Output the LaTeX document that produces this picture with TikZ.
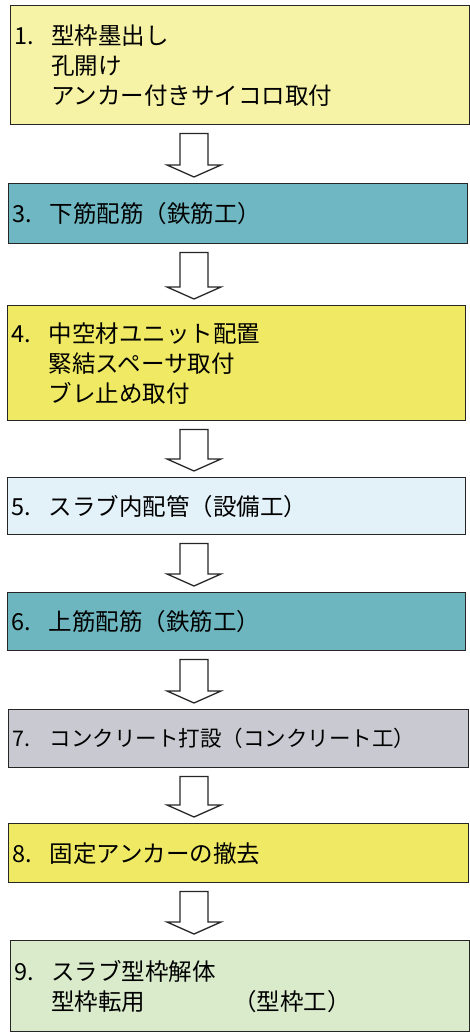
\documentclass[tikz,border=0pt]{standalone}
\usepackage{fontspec}
\setmainfont{Noto Sans CJK JP}
\usetikzlibrary{calc}
\definecolor{cA}{HTML}{F7F3A6}
\definecolor{cB}{HTML}{6FB7C2}
\definecolor{cC}{HTML}{EFE964}
\definecolor{cD}{HTML}{E3F1F9}
\definecolor{cE}{HTML}{6DB6BF}
\definecolor{cF}{HTML}{C9C9D1}
\definecolor{cG}{HTML}{F0E964}
\definecolor{cH}{HTML}{DAEBCB}
\newcommand{\numlab}[1]{\makebox[37pt][l]{#1}}
\newcommand{\indentlab}{\hspace*{37pt}}
\tikzset{
  stepbox/.style={draw=black!85, line width=1.4pt, rectangle, anchor=north west,
    inner xsep=4pt, inner ysep=0pt, align=left,
    font=\fontsize{23.5pt}{30pt}\selectfont},
  smalltext/.style={font=\fontsize{21.5pt}{30pt}\selectfont},
  blockarr/.style={draw=black!85, line width=1.3pt, fill=white, line join=miter}
}
\newcommand{\flowarrow}[2]{%
  \draw[blockarr] let \p1=(#1.south), \p2=(#2.north) in
   (180pt,\y1-8pt) -- (208pt,\y1-8pt) -- (208pt,\y2+18pt) -- (221pt,\y2+18pt)
   -- (194pt,\y2+6pt) -- (167pt,\y2+18pt) -- (180pt,\y2+18pt) -- cycle;}
\begin{document}
\begin{tikzpicture}[x=1pt,y=-1pt]
\useasboundingbox (0,0) rectangle (470,1034);
\node[stepbox, fill=cA, text width=451pt, minimum height=119pt] (b1) at (9.5,5)
  {\numlab{1.}型枠墨出し\\\indentlab 孔開け\\\indentlab アンカー付きサイコロ取付};
\node[stepbox, fill=cB, text width=451pt, minimum height=60pt] (b3) at (8,183)
  {\numlab{3.}下筋配筋（鉄筋工）};
\node[stepbox, fill=cC, text width=450pt, minimum height=115pt] (b4) at (7,305)
  {\numlab{4.}中空材ユニット配置\\\indentlab 緊結スペーサ取付\\\indentlab ブレ止め取付};
\node[stepbox, fill=cD, text width=450pt, minimum height=57pt] (b5) at (7,477)
  {\numlab{5.}スラブ内配管（設備工）};
\node[stepbox, fill=cE, text width=450pt, minimum height=58pt] (b6) at (7,592)
  {\numlab{6.}上筋配筋（鉄筋工）};
\node[stepbox, smalltext, fill=cF, text width=452pt, minimum height=58pt] (b7) at (8,709)
  {\numlab{7.}コンクリート打設（コンクリート工）};
\node[stepbox, fill=cG, text width=452pt, minimum height=59pt] (b8) at (8,823)
  {\numlab{8.}固定アンカーの撤去};
\node[stepbox, fill=cH, text width=451pt, minimum height=91pt] (b9) at (9.5,940)
  {\numlab{9.}スラブ型枠解体\\\indentlab 型枠転用\hspace*{88pt}（型枠工）};
\flowarrow{b1}{b3}
\flowarrow{b3}{b4}
\flowarrow{b4}{b5}
\flowarrow{b5}{b6}
\flowarrow{b6}{b7}
\flowarrow{b7}{b8}
\flowarrow{b8}{b9}
\end{tikzpicture}
\end{document}
